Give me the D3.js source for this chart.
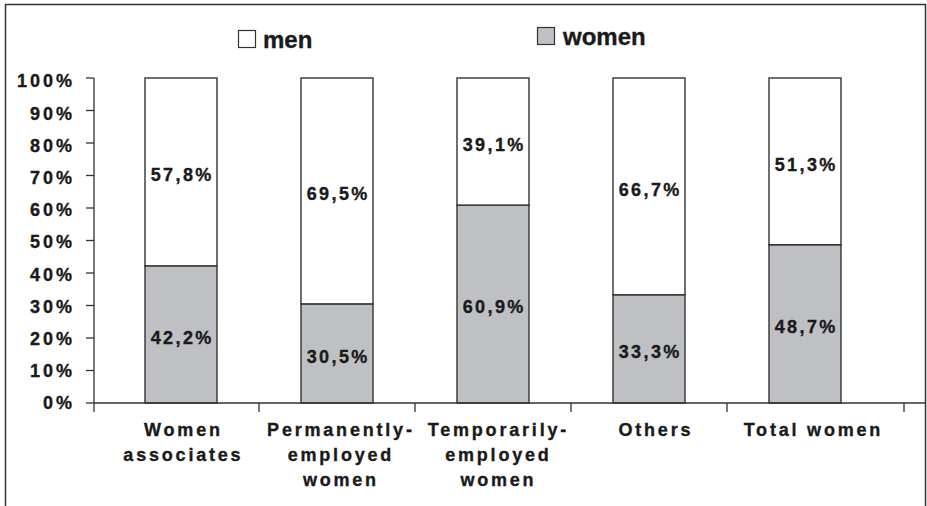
<!DOCTYPE html>
<html>
<head>
<meta charset="utf-8">
<script src="https://cdn.jsdelivr.net/npm/d3@7"></script>
<style>
  html, body { margin: 0; padding: 0; background: #fff; }
  svg { display: block; }
  text { font-family: "Liberation Sans", Arial, sans-serif; font-weight: bold; fill: #1a1a1a; stroke: #1a1a1a; stroke-width: 0.35px; }
</style>
</head>
<body>
<svg id="chart" width="927" height="506"></svg>
<script>
// ---- data ----
const categories = ["Women associates", "Permanently-employed women", "Temporarily-employed women", "Others", "Total women"];
const categoryLines = [["Women", "associates"], ["Permanently-", "employed", "women"], ["Temporarily-", "employed", "women"], ["Others"], ["Total women"]];
const womenValues = [42.2, 30.5, 60.9, 33.3, 48.7];
const menValues = [57.8, 69.5, 39.1, 66.7, 51.3];
const yTickValues = [0, 10, 20, 30, 40, 50, 60, 70, 80, 90, 100];
const seriesNames = ["men", "women"];
const seriesColors = { men: "#ffffff", women: "#bfc0c4" };

// ---- layout ----
const svg = d3.select("#chart");
const W = 927, H = 506;
const axisLeft = 94, axisRight = 904, yTop = 78, yBottom = 403;
const fmt = v => v.toFixed(1).replace(".", ",") + "%";

// frame
svg.append("path")
  .attr("d", `M5.5,${H + 2} V4.5 H925.5 V${H + 2}`)
  .attr("fill", "none").attr("stroke", "#333").attr("stroke-width", 1.5);

const y = d3.scaleLinear().domain([0, 100]).range([yBottom, yTop]);
const pInner = 0.5385;
const x = d3.scaleBand().domain(categories).range([103, 883]).paddingInner(pInner).paddingOuter(pInner / 2);

// stacked data
const rows = categories.map((c, i) => ({ cat: c, women: womenValues[i], men: menValues[i] }));
const stack = d3.stack().keys(["women", "men"])(rows);

// bars
stack.forEach(layer => {
  svg.append("g").selectAll("rect").data(layer).join("rect")
    .attr("x", d => x(d.data.cat))
    .attr("width", x.bandwidth())
    .attr("y", d => y(d[1]))
    .attr("height", d => y(d[0]) - y(d[1]))
    .attr("fill", seriesColors[layer.key])
    .attr("stroke", "#333").attr("stroke-width", 1.4);
});

// value labels
const vs = 2.4;
stack.forEach(layer => {
  svg.append("g").selectAll("text").data(layer).join("text")
    .attr("x", d => x(d.data.cat) + x.bandwidth() / 2 + vs / 2)
    .attr("y", d => (y(d[0]) + y(d[1])) / 2 + 3)
    .attr("dy", "0.35em")
    .attr("text-anchor", "middle")
    .attr("font-size", 18)
    .attr("letter-spacing", vs)
    .text(d => fmt(d[1] - d[0]));
});

// y axis
const yAxis = svg.append("g");
yAxis.append("line").attr("x1", axisLeft).attr("x2", axisLeft).attr("y1", yTop).attr("y2", yBottom)
  .attr("stroke", "#333").attr("stroke-width", 1.3);
yAxis.selectAll("line.tick").data(yTickValues).join("line").attr("class", "tick")
  .attr("x1", axisLeft - 8).attr("x2", axisLeft).attr("y1", d => y(d)).attr("y2", d => y(d))
  .attr("stroke", "#333").attr("stroke-width", 1.3);
const ys = 3;
yAxis.selectAll("text").data(yTickValues).join("text")
  .attr("x", 72 + ys)
  .attr("y", d => y(d) + (d / 100) * 3)
  .attr("dy", "0.35em")
  .attr("text-anchor", "end")
  .attr("font-size", 18)
  .attr("letter-spacing", ys)
  .text(d => d + "%");

// x axis
const xAxis = svg.append("g");
xAxis.append("line").attr("x1", axisLeft).attr("x2", 925).attr("y1", yBottom).attr("y2", yBottom)
  .attr("stroke", "#333").attr("stroke-width", 1.3);
const boundaries = [axisLeft].concat(categories.slice(1).map(c => x(c) - x.step() * pInner / 2), [axisRight]);
xAxis.selectAll("line.tick").data(boundaries).join("line").attr("class", "tick")
  .attr("x1", d => d).attr("x2", d => d).attr("y1", yBottom).attr("y2", yBottom + 9)
  .attr("stroke", "#333").attr("stroke-width", 1.3);
const cs = 2.8;
categories.forEach((c, i) => {
  const cx = x(c) + x.bandwidth() / 2 + cs / 2 + i * 1.5 + 1;
  const t = xAxis.append("text")
    .attr("x", cx)
    .attr("y", 436)
    .attr("text-anchor", "middle")
    .attr("font-size", 18)
    .attr("letter-spacing", cs);
  categoryLines[i].forEach((ln, j) => {
    t.append("tspan").attr("x", cx).attr("dy", j === 0 ? 0 : 25).text(ln);
  });
});

// legend
const legendItems = [
  { name: seriesNames[0], bx: 238, by: 30, tx: 263, ty: 48 },
  { name: seriesNames[1], bx: 537, by: 27, tx: 563, ty: 45 }
];
const lg = svg.append("g");
legendItems.forEach(it => {
  lg.append("rect").attr("x", it.bx + 0.5).attr("y", it.by + 0.5).attr("width", 17).attr("height", 17)
    .attr("fill", seriesColors[it.name]).attr("stroke", "#333").attr("stroke-width", 1.2);
  lg.append("text").attr("x", it.tx).attr("y", it.ty).attr("font-size", 24).text(it.name);
});
</script>
</body>
</html>
